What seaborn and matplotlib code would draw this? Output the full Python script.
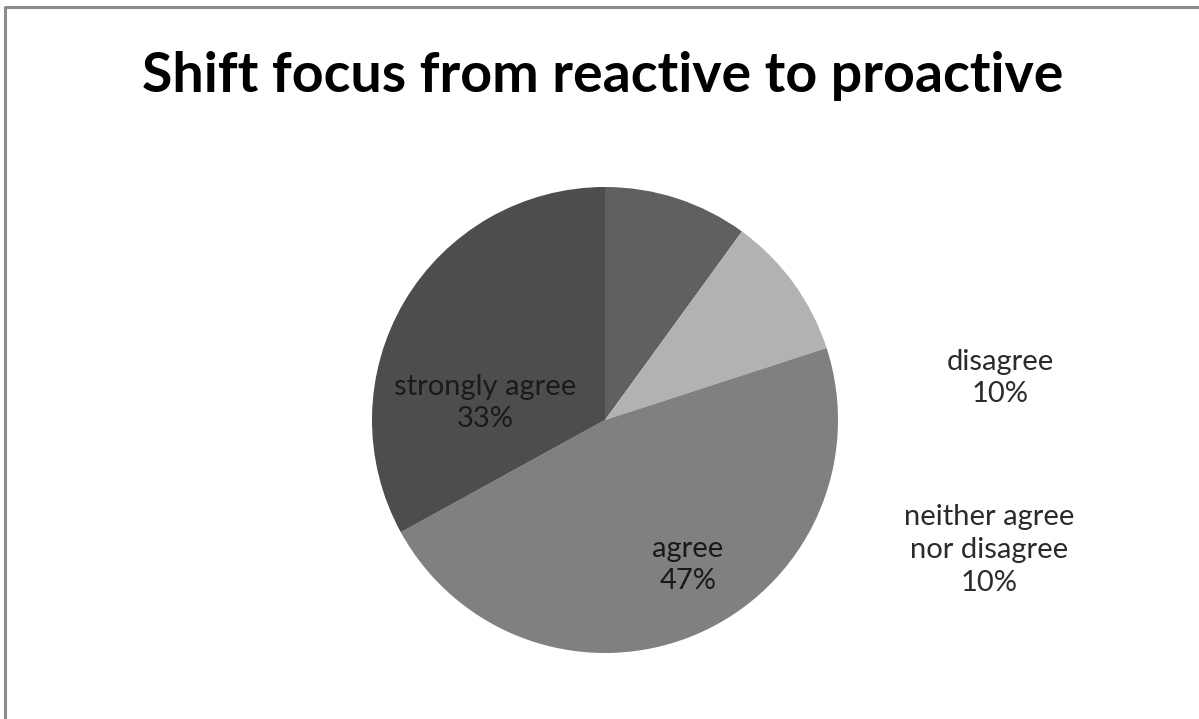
import matplotlib
matplotlib.use("Agg")
import matplotlib.pyplot as plt
from matplotlib.lines import Line2D
import seaborn as sns

# Survey responses
categories = ["disagree", "neither agree\nnor disagree", "agree", "strongly agree"]
shares = [10, 10, 47, 33]
slice_colors = ["#606060", "#b2b2b2", "#808080", "#4d4d4d"]
title = "Shift focus from reactive to proactive"

sns.set_theme(style="white")
plt.rcParams["font.family"] = ["Lato", "DejaVu Sans"]

W, H = 1199, 719
fig = plt.figure(figsize=(W / 100, H / 100), dpi=100)
fig.patch.set_facecolor("white")
fig.patch.set_edgecolor("none")
fig.patch.set_linewidth(0)

# Chart frame: left and top edges
fx, fy = 5 / W, 1 - 7 / H
frame_kw = dict(transform=fig.transFigure, color="#8c8c8c", linewidth=2.2,
                solid_capstyle="butt")
fig.lines.append(Line2D([fx, fx], [0, fy + 1.1 / H], **frame_kw))
fig.lines.append(Line2D([fx, 1.0], [fy, fy], **frame_kw))

fig.text(603 / W, 1 - 76 / H, title, ha="center", va="center",
         fontsize=40, fontweight="bold", color="#000000")

cx, cy, r = 605, 420, 233
ax = fig.add_axes([(cx - r) / W, (H - cy - r) / H, 2 * r / W, 2 * r / H])
ax.pie(shares, colors=slice_colors, startangle=90, counterclock=False,
       radius=1.0, wedgeprops=dict(linewidth=0))
ax.set_xlim(-1, 1)
ax.set_ylim(-1, 1)
ax.set_aspect("equal")
ax.axis("off")

# Data labels: (x, y) in pie units, text colour
label_pos = [(1.697, 0.180), (1.648, -0.558), (0.356, -0.622), (-0.515, 0.073)]
label_col = ["#2b2b2b", "#2b2b2b", "#1a1a1a", "#1a1a1a"]
for name, v, (x, y), c in zip(categories, shares, label_pos, label_col):
    ax.text(x, y, f"{name}\n{v}%", ha="center", va="center", fontsize=21,
            color=c, linespacing=1.32, clip_on=False)

fig.savefig("out.png", dpi=100, facecolor="white", edgecolor="none")
